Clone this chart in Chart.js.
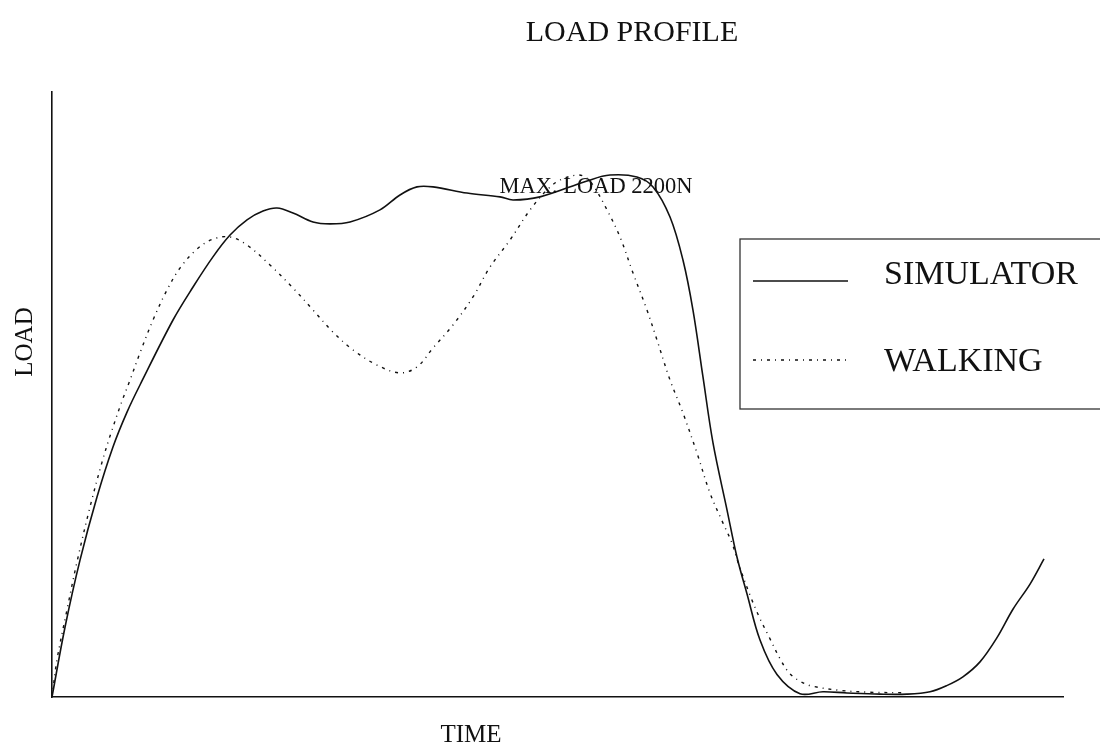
<!DOCTYPE html>
<html>
<head>
<meta charset="utf-8">
<script src="https://cdn.jsdelivr.net/npm/chart.js@4.4.0/dist/chart.umd.min.js"></script>
<style>
  html, body { margin: 0; padding: 0; background: #ffffff; }
  #wrap { width: 1100px; height: 752px; }
</style>
</head>
<body>
<div id="wrap"><canvas id="c" width="1100" height="752"></canvas></div>
<script>
// ---- data (time in arbitrary units 0-100, load in N) ----
const simTime = [0, 1.29, 2.77, 4.45, 6.03, 7.42, 8.90, 11.97, 13.95, 15.92, 17.61, 19.29, 20.87, 22.26, 23.84, 25.82, 27.50, 29.48, 32.44, 34.42, 36.10, 37.69, 41.05, 44.31, 45.60, 48.27, 52.92, 55.19, 57.86, 59.45, 61.13, 62.41, 63.40, 64.39, 65.38, 66.77, 67.75, 68.74, 70.03, 71.71, 73.99, 76.26, 78.63, 81.90, 84.57, 86.85, 88.50, 90.10, 91.79, 93.47, 95.05, 96.74, 98.12];
const simLoad = [0, 295, 577, 843, 1054, 1201, 1332, 1589, 1728, 1855, 1947, 2011, 2048, 2061, 2040, 2002, 1994, 2002, 2053, 2116, 2150, 2150, 2124, 2108, 2095, 2108, 2175, 2200, 2192, 2150, 2023, 1842, 1631, 1349, 1071, 788, 590, 435, 240, 95, 14, 22, 17, 12, 12, 22, 48, 85, 148, 250, 370, 476, 582];
const walkTime = [0, 0.49, 1.48, 2.47, 3.76, 4.95, 5.74, 6.92, 7.72, 8.70, 9.99, 11.37, 12.66, 14.34, 15.92, 17.61, 19.29, 21.56, 23.84, 25.82, 27.79, 29.77, 32.15, 34.42, 36.10, 37.69, 39.66, 41.64, 43.32, 45.30, 47.28, 48.96, 50.25, 51.93, 52.72, 53.51, 54.90, 56.18, 57.47, 58.85, 59.84, 61.13, 62.41, 63.80, 65.08, 66.37, 67.26, 67.85, 69.04, 70.03, 71.01, 72.00, 72.99, 74.18, 75.27, 77.95, 80.91, 84.36];
const walkLoad = [0, 156, 367, 569, 801, 990, 1100, 1247, 1336, 1450, 1589, 1715, 1808, 1888, 1930, 1939, 1905, 1821, 1724, 1631, 1538, 1463, 1399, 1366, 1391, 1471, 1568, 1686, 1812, 1926, 2053, 2137, 2179, 2200, 2192, 2158, 2053, 1939, 1787, 1631, 1505, 1336, 1197, 1028, 860, 733, 649, 569, 429, 330, 246, 162, 98, 62, 45, 28, 20, 18];
const seriesNames = ['SIMULATOR', 'WALKING'];
const chartTitle = 'LOAD PROFILE';
const xTitle = 'TIME';
const yTitle = 'LOAD';
const note = 'MAX. LOAD 2200N';

const toPts = (xs, ys) => xs.map((x, i) => ({ x: x, y: ys[i] }));
const INK = '#111111';
const SERIF = '"Liberation Serif", "Times New Roman", serif';
const walkDash = [3, 5, 1, 5];

const textPlugin = {
  id: 'texts',
  afterDraw(chart) {
    const ctx = chart.ctx;
    ctx.save();
    ctx.fillStyle = INK;
    ctx.textBaseline = 'alphabetic';
    ctx.textAlign = 'center';
    ctx.font = '30px ' + SERIF;
    ctx.fillText(chartTitle, 632, 41);
    ctx.font = '22.5px ' + SERIF;
    ctx.fillText(note, 596, 193);
    ctx.font = '25px ' + SERIF;
    ctx.fillText(xTitle, 471, 742);
    ctx.save();
    ctx.translate(32, 342);
    ctx.rotate(-Math.PI / 2);
    ctx.font = '25px ' + SERIF;
    ctx.fillText(yTitle, 0, 0);
    ctx.restore();

    // legend box
    ctx.strokeStyle = '#333';
    ctx.lineWidth = 1.3;
    ctx.strokeRect(740, 239, 400, 170);
    const ds = chart.data.datasets;
    const rows = [281, 360];
    const textY = [284, 371];
    ds.forEach((d, i) => {
      ctx.beginPath();
      ctx.strokeStyle = d.borderColor;
      ctx.lineWidth = d.borderWidth;
      ctx.setLineDash(d.borderDash || []);
      ctx.moveTo(753, rows[i]);
      ctx.lineTo(848, rows[i]);
      ctx.stroke();
      ctx.setLineDash([]);
      ctx.font = '34px ' + SERIF;
      ctx.textAlign = 'left';
      ctx.fillStyle = INK;
      ctx.fillText(d.label, 884, textY[i]);
    });
    ctx.restore();
  }
};

new Chart(document.getElementById('c'), {
  type: 'line',
  data: {
    datasets: [
      {
        label: seriesNames[0],
        data: toPts(simTime, simLoad),
        borderColor: INK,
        borderWidth: 1.6,
        pointRadius: 0,
        fill: false,
        tension: 0.35
      },
      {
        label: seriesNames[1],
        data: toPts(walkTime, walkLoad),
        borderColor: INK,
        borderWidth: 1.4,
        borderDash: walkDash,
        pointRadius: 0,
        fill: false,
        tension: 0.35
      }
    ]
  },
  options: {
    responsive: false,
    animation: false,
    events: [],
    layout: { padding: { left: 52, top: 92, right: 37, bottom: 55 } },
    plugins: { legend: { display: false }, title: { display: false }, tooltip: { enabled: false } },
    scales: {
      x: {
        type: 'linear', min: 0, max: 100,
        grid: { display: false, drawTicks: false },
        ticks: { display: false },
        border: { display: true, color: INK, width: 1.6 }
      },
      y: {
        type: 'linear', min: 0, max: 2550,
        grid: { display: false, drawTicks: false },
        ticks: { display: false },
        border: { display: true, color: INK, width: 1.6 }
      }
    }
  },
  plugins: [textPlugin]
});
</script>
</body>
</html>
